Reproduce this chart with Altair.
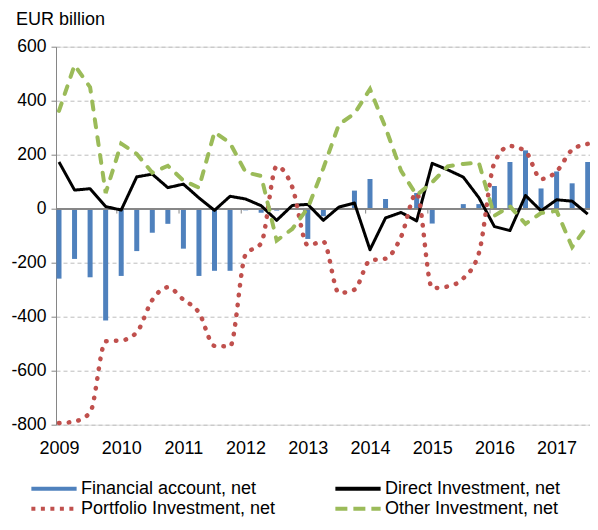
import altair as alt
import pandas as pd

FONT = "Liberation Sans"

# ---- data (EUR billion, quarterly 2009Q1 - 2017Q3) ----
quarters = [f"{y}Q{q}" for y in range(2009, 2018) for q in (1, 2, 3, 4)][:35]

financial = [-259, -186, -254, -414, -249, -157, -89, -56, -148, -249, -230, -230,
             -6, -15, -7, -2, -112, -28, 2, 67, 110, 36, -5, 58, -55, -2, 17, 17,
             84, 173, 216, 75, 138, 94, 173]
direct = [173, 69, 74, 8, -5, 118, 128, 78, 91, 40, -6, 46, 36, 11, -43, 12, 16,
          -43, 6, 21, -152, -34, -14, -45, 168, 144, 117, 41, -66, -81, 49, -8,
          33, 28, -20]
portfolio = [-794, -788, -755, -491, -488, -458, -338, -291, -337, -385, -508, -510,
             -170, -128, 157, 80, -135, -122, -312, -300, -192, -185, -104, 58,
             -294, -288, -258, -165, 170, 232, 212, 110, 138, 218, 240]
other = [362, 532, 450, 58, 241, 203, 133, 159, 104, 78, 284, 243, 135, 121, -118,
         -75, 2, 150, 312, 352, 443, 300, 140, 50, 98, 157, 166, 170, -26, 9, -56,
         -16, -8, -142, -62]

series_names = ["Financial account, net", "Direct Investment, net",
                "Portfolio Investment, net", "Other Investment, net"]
series_colors = ["#4F81BD", "#000000", "#C0504D", "#9BBB59"]
# legend order (two columns, filled column by column)
legend_order = [series_names[0], series_names[2], series_names[1], series_names[3]]
legend_colors = [series_colors[0], series_colors[2], series_colors[1], series_colors[3]]
legend_dashes = [[1, 0], [4, 5.5], [1, 0], [12, 6]]
year_labels = list(range(2009, 2018))
y_ticks = [-800, -600, -400, -200, 0, 200, 400, 600]

# ---- tables ----
t = [int(q[:4]) + (int(q[-1]) - 1) / 4 for q in quarters]
df_fin = pd.DataFrame({"t": t, "value": financial})
df_lines = pd.DataFrame({
    "t": t * 3,
    "value": direct + portfolio + other,
    "series": [series_names[1]] * len(t) + [series_names[2]] * len(t) + [series_names[3]] * len(t),
})
df_ticks = pd.DataFrame({"tb": [y - 0.07 for y in year_labels[1:]]})

px_per_year = 62.2
x0 = 2009 - 3 / px_per_year
W, H = 534, 378
x_scale = alt.Scale(domain=[x0, x0 + W / px_per_year], nice=False, zero=False, padding=0)
y_scale = alt.Scale(domain=[-800, 600], nice=False, zero=False, padding=0)

X = alt.X("t:Q", scale=x_scale,
          axis=alt.Axis(values=year_labels, format="d", grid=False, domain=False,
                        ticks=False, labelPadding=15, labelFontSize=18,
                        labelFont=FONT, labelColor="#000", title=None,
                        labelFlush=False))
Y = alt.Y("value:Q", scale=y_scale,
          axis=alt.Axis(values=y_ticks, labelExpr="toString(datum.value)",
                        grid=True, gridDash=[4, 3],
                        gridColor="#BDBDBD", domainColor="#868686",
                        tickColor="#868686", tickSize=5, labelPadding=5,
                        labelFontSize=17.5, labelFont=FONT, labelColor="#000",
                        title=None))

leg = alt.Legend(title=None, orient="none", legendX=-11, legendY=433, columns=2,
                 columnPadding=51, rowPadding=2, padding=0, labelFontSize=18,
                 labelFont=FONT, labelColor="#000", symbolType="M-4,0H4",
                 symbolSize=128, symbolStrokeWidth=4, labelOffset=18,
                 labelLimit=400)
color_enc = alt.Color("series:N", scale=alt.Scale(domain=legend_order, range=legend_colors), legend=leg)
dash_enc = alt.StrokeDash("series:N", scale=alt.Scale(domain=legend_order, range=legend_dashes), legend=leg)

bars = alt.Chart(df_fin).mark_bar(size=5, color=series_colors[0]).encode(x=X, y=Y)

zero_line = alt.Chart(df_fin).mark_rule(color="#868686", strokeWidth=1.3).encode(y=alt.datum(0))
year_ticks = alt.Chart(df_ticks).mark_rule(color="#868686", strokeWidth=1).encode(
    x=alt.X("tb:Q", scale=x_scale), y=alt.datum(0), y2=alt.datum(-18))

def series_data(name):
    return alt.Chart(df_lines).transform_filter(alt.datum.series == name)

l_direct = series_data(series_names[1]).mark_line(
    strokeWidth=3, strokeJoin="round").encode(
    x=X, y=Y, color=color_enc, strokeDash=dash_enc)
l_port = series_data(series_names[2]).mark_line(
    strokeWidth=4.5, strokeCap="round", strokeDash=[0.5, 9.3],
    interpolate="monotone").encode(x=X, y=Y, color=color_enc)
l_other = series_data(series_names[3]).mark_line(
    strokeWidth=4, strokeCap="round", strokeDash=[8, 10]).encode(
    x=X, y=Y, color=color_enc)

chart = alt.layer(bars, zero_line, year_ticks, l_direct, l_port, l_other).properties(
    width=W, height=H,
    autosize=alt.AutoSizeParams(type="none"),
    padding={"left": 48, "top": 38.7, "right": 0, "bottom": 93.3},
    title=alt.TitleParams("EUR billion", anchor="start", frame="bounds",
                          fontSize=18, font=FONT, fontWeight="normal",
                          color="#000", offset=9, dx=5),
).configure_view(stroke=None).configure(background="white")

chart.save("out.html", embed_options={"renderer": "svg", "actions": False})
